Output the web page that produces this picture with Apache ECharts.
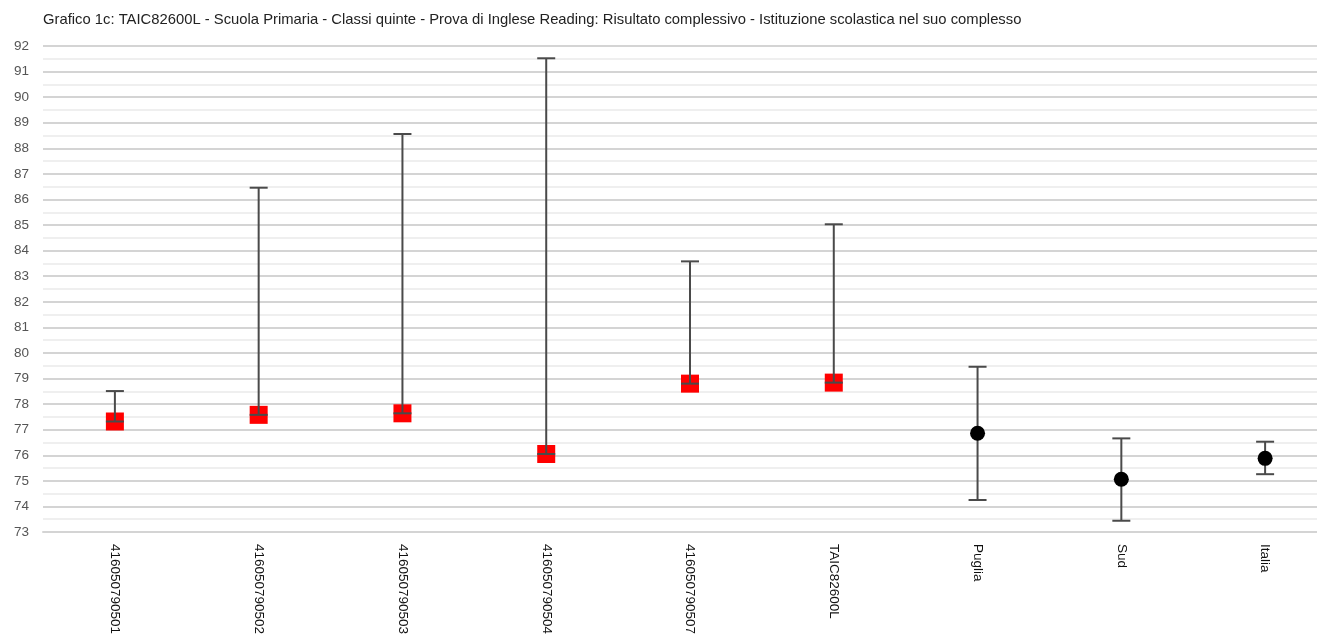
<!DOCTYPE html>
<html>
<head>
<meta charset="utf-8">
<script src="https://cdn.jsdelivr.net/npm/echarts@6/dist/echarts.min.js"></script>
<style>
  html, body { margin: 0; padding: 0; background: #fff; overflow: hidden; }
  #chart { width: 1340px; height: 640px; }
</style>
</head>
<body>
<div id="chart"></div>
<script>
// dati
var categories = ['416050790501', '416050790502', '416050790503', '416050790504', '416050790507', 'TAIC82600L', 'Puglia', 'Sud', 'Italia'];
var means = [77.32, 77.58, 77.64, 76.05, 78.80, 78.84, 76.86, 75.06, 75.88];
var lows  = [77.32, 77.58, 77.64, 76.05, 78.80, 78.84, 74.25, 73.44, 75.26];
var highs = [78.51, 86.46, 88.56, 91.52, 83.58, 85.03, 79.46, 76.66, 76.53];
var schoolCount = 6;
var yTicks = { min: 73, max: 92, step: 1 };

var chart = echarts.init(document.getElementById('chart'));

var barData = categories.map(function (c, i) { return [i, lows[i], highs[i]]; });
var schoolPts = [], areaPts = [];
means.forEach(function (v, i) {
  (i < schoolCount ? schoolPts : areaPts).push([i, v]);
});

chart.setOption({
  animation: false,
  textStyle: { fontFamily: 'Liberation Sans, Arial, sans-serif' },
  title: {
    text: 'Grafico 1c: TAIC82600L - Scuola Primaria - Classi quinte - Prova di Inglese Reading: Risultato complessivo - Istituzione scolastica nel suo complesso',
    left: 38, top: 7,
    textStyle: { fontSize: 14.8, fontWeight: 'normal', color: '#222' }
  },
  // la griglia sborda a destra oltre la finestra, come nell'originale
  grid: { left: 43, right: 3, top: 46, bottom: 108 },
  xAxis: {
    type: 'category',
    data: categories,
    axisLine: { lineStyle: { color: '#d4d4d4', width: 2 } },
    axisTick: { show: false },
    axisLabel: { rotate: -90, color: '#111', fontSize: 13.5, margin: 12, interval: 0 }
  },
  yAxis: {
    type: 'value',
    min: yTicks.min, max: yTicks.max, interval: yTicks.step,
    axisLine: { show: false },
    axisTick: { show: false },
    axisLabel: { color: '#555', fontSize: 13.5, margin: 14 },
    splitLine: { lineStyle: { color: '#d4d4d4', width: 2 } },
    minorTick: { show: false, splitNumber: 2 },
    minorSplitLine: { show: true, lineStyle: { color: '#efefef', width: 2 } }
  },
  series: [
    {
      type: 'custom',
      data: barData,
      z: 3,
      renderItem: function (params, api) {
        var x = api.value(0);
        var lo = api.coord([x, api.value(1)]);
        var hi = api.coord([x, api.value(2)]);
        var w = 9;
        var st = { stroke: '#4a4a4a', lineWidth: 2 };
        return {
          type: 'group',
          children: [
            { type: 'line', shape: { x1: hi[0], y1: hi[1], x2: lo[0], y2: lo[1] }, style: st },
            { type: 'line', shape: { x1: hi[0] - w, y1: hi[1], x2: hi[0] + w, y2: hi[1] }, style: st },
            { type: 'line', shape: { x1: lo[0] - w, y1: lo[1], x2: lo[0] + w, y2: lo[1] }, style: st }
          ]
        };
      }
    },
    {
      type: 'scatter',
      data: schoolPts,
      symbol: 'rect',
      symbolSize: 18,
      z: 2,
      itemStyle: { color: '#ff0000', opacity: 1 }
    },
    {
      type: 'scatter',
      data: areaPts,
      symbol: 'circle',
      symbolSize: 15,
      z: 4,
      itemStyle: { color: '#000', opacity: 1 }
    }
  ]
});
</script>
</body>
</html>
